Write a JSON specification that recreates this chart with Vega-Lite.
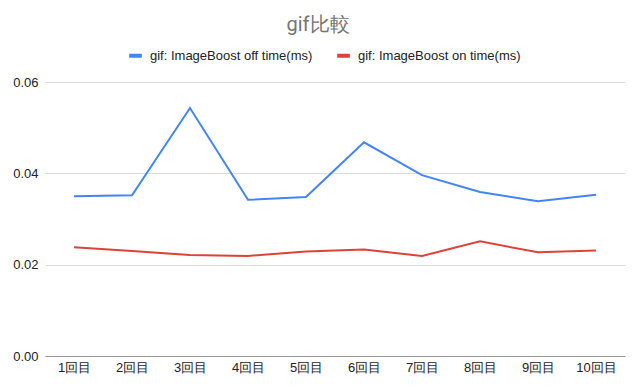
{
  "$schema": "https://vega.github.io/schema/vega-lite/v6.json",
  "width": 580,
  "height": 274,
  "autosize": {"type": "none"},
  "padding": {"left": 45, "top": 82, "right": 11, "bottom": 35},
  "background": "white",
  "title": {
    "text": "gif比較",
    "font": "Roboto",
    "fontSize": 20,
    "fontWeight": "normal",
    "color": "#757575",
    "anchor": "middle",
    "dx": -17,
    "offset": 12
  },
  "data": {
    "values": [
      {"run": "1回目", "series": "gif: ImageBoost off time(ms)", "value": 0.0350},
      {"run": "2回目", "series": "gif: ImageBoost off time(ms)", "value": 0.0352},
      {"run": "3回目", "series": "gif: ImageBoost off time(ms)", "value": 0.0543},
      {"run": "4回目", "series": "gif: ImageBoost off time(ms)", "value": 0.0342},
      {"run": "5回目", "series": "gif: ImageBoost off time(ms)", "value": 0.0348},
      {"run": "6回目", "series": "gif: ImageBoost off time(ms)", "value": 0.0468},
      {"run": "7回目", "series": "gif: ImageBoost off time(ms)", "value": 0.0396},
      {"run": "8回目", "series": "gif: ImageBoost off time(ms)", "value": 0.0359},
      {"run": "9回目", "series": "gif: ImageBoost off time(ms)", "value": 0.0339},
      {"run": "10回目", "series": "gif: ImageBoost off time(ms)", "value": 0.0353},
      {"run": "1回目", "series": "gif: ImageBoost on time(ms)", "value": 0.0238},
      {"run": "2回目", "series": "gif: ImageBoost on time(ms)", "value": 0.0230},
      {"run": "3回目", "series": "gif: ImageBoost on time(ms)", "value": 0.0221},
      {"run": "4回目", "series": "gif: ImageBoost on time(ms)", "value": 0.0219},
      {"run": "5回目", "series": "gif: ImageBoost on time(ms)", "value": 0.0229},
      {"run": "6回目", "series": "gif: ImageBoost on time(ms)", "value": 0.0233},
      {"run": "7回目", "series": "gif: ImageBoost on time(ms)", "value": 0.0219},
      {"run": "8回目", "series": "gif: ImageBoost on time(ms)", "value": 0.0251},
      {"run": "9回目", "series": "gif: ImageBoost on time(ms)", "value": 0.0227},
      {"run": "10回目", "series": "gif: ImageBoost on time(ms)", "value": 0.0231}
    ]
  },
  "mark": {"type": "line", "strokeWidth": 2},
  "encoding": {
    "x": {
      "field": "run",
      "type": "ordinal",
      "sort": null,
      "scale": {"type": "point", "padding": 0.5},
      "axis": {
        "title": null,
        "labelAngle": 0,
        "ticks": false,
        "domain": true,
        "domainColor": "#999999",
        "domainWidth": 1,
        "grid": false,
        "labelFont": "Liberation Sans",
        "labelFontSize": 13,
        "labelColor": "#222222",
        "labelPadding": 5
      }
    },
    "y": {
      "field": "value",
      "type": "quantitative",
      "scale": {"domain": [0, 0.06], "nice": false},
      "axis": {
        "title": null,
        "values": [0, 0.02, 0.04, 0.06],
        "format": ".2f",
        "ticks": false,
        "domain": false,
        "gridColor": "#dddddd",
        "labelFont": "Liberation Sans",
        "labelFontSize": 13,
        "labelColor": "#222222",
        "labelPadding": 7
      }
    },
    "color": {
      "field": "series",
      "type": "nominal",
      "scale": {"range": ["#4285F4", "#DB4437"]},
      "legend": {
        "title": null,
        "orient": "none",
        "legendX": 82,
        "legendY": -35,
        "direction": "horizontal",
        "symbolType": "stroke",
        "symbolSize": 160,
        "symbolStrokeWidth": 4,
        "labelFont": "Liberation Sans",
        "labelFontSize": 13,
        "labelColor": "#222222",
        "labelOffset": 6,
        "labelLimit": 300,
        "columnPadding": 16
      }
    }
  },
  "config": {
    "view": {"stroke": null}
  }
}
